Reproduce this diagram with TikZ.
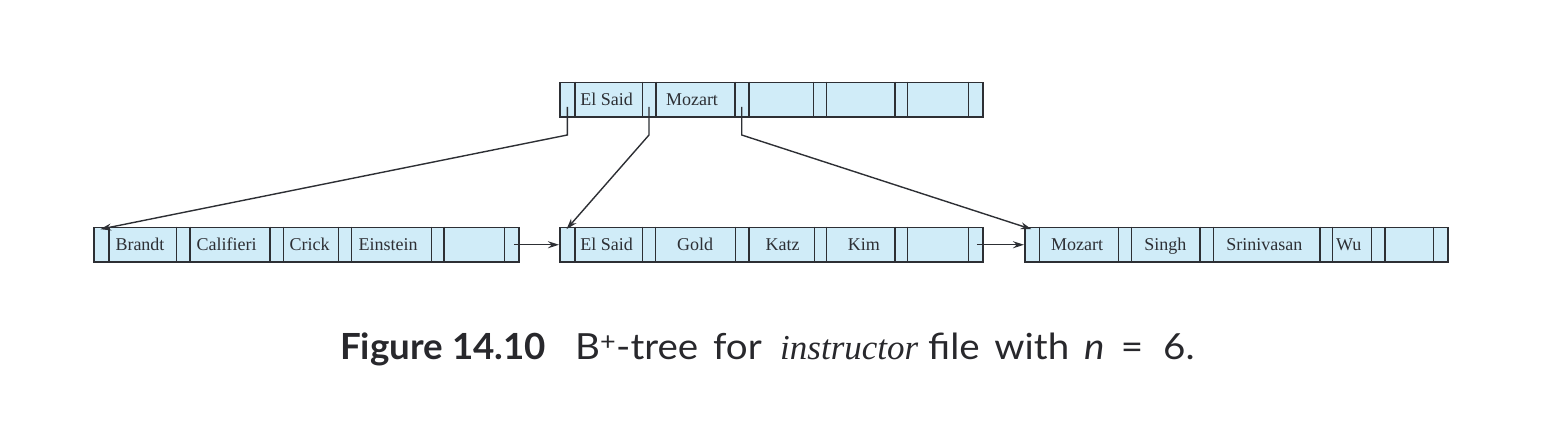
\documentclass[tikz,border=0pt]{standalone}
\usepackage{fontspec}
\setmainfont{Liberation Serif}
\newfontfamily\capsans[FakeStretch=1.07, WordSpace=1.5]{Lato}
\newfontfamily\capsansb[FakeStretch=1.02]{Lato}
\usetikzlibrary{arrows.meta}
\definecolor{cellfill}{RGB}{208,236,248}
\definecolor{ink}{RGB}{45,47,52}
\definecolor{capink}{RGB}{40,40,44}
\begin{document}
\begin{tikzpicture}[x=1pt,y=-1pt,
  nodebox/.style={draw=ink, fill=cellfill, line width=1.8pt, minimum height=34.3pt, inner sep=0pt, anchor=north west},
  divider/.style={draw=ink, line width=1.5pt},
  keytext/.style={font=\fontsize{18}{20}\selectfont, text=ink, inner sep=0pt, anchor=base},
  conn/.style={draw=ink, line width=1.4pt, -{Stealth[length=11pt,width=7pt]}},
  captext/.style={font=\capsans\fontsize{36}{42}\selectfont, text=capink, inner sep=0pt, anchor=base west}]
\useasboundingbox (0,0) rectangle (1566,430);
% ---------- root ----------
\node[nodebox, minimum width=422.4pt] (root) at (559.3,81.7) {};
\foreach \x in {575,642.7,656,735,749,813.3,826.7,895,907.7,968.3}
  \draw[divider] (\x,81.7) -- (\x,116);
\node[keytext] (rk1) at (606.7,106) {El Said};
\node[keytext] (rk2) at (692,106) {Mozart};
% ---------- leaf A ----------
\node[nodebox, minimum width=425pt] (leafA) at (93.3,226.7) {};
\foreach \x in {109,176.7,190,270,283.3,338.3,351.7,431.7,444,504.3}
  \draw[divider] (\x,226.7) -- (\x,261);
\node[keytext] (a1) at (140,251) {Brandt};
\node[keytext] (a2) at (226.7,251) {Califieri};
\node[keytext] (a3) at (309.5,251) {Crick};
\node[keytext] (a4) at (388,251) {Einstein};
% ---------- leaf B ----------
\node[nodebox, minimum width=422.7pt] (leafB) at (559,226.7) {};
\foreach \x in {575,642.3,655.7,735.7,749,814.3,826.7,895,907.7,968.3}
  \draw[divider] (\x,226.7) -- (\x,261);
\node[keytext] (b1) at (606.7,251) {El Said};
\node[keytext] (b2) at (695,251) {Gold};
\node[keytext] (b3) at (782.5,251) {Katz};
\node[keytext] (b4) at (863.8,251) {Kim};
% ---------- leaf C ----------
\node[nodebox, minimum width=422.7pt] (leafC) at (1024,226.7) {};
\foreach \x in {1039.3,1118.3,1131.7,1200,1213.3,1320,1332.7,1371.7,1385,1433.3}
  \draw[divider] (\x,226.7) -- (\x,261);
\node[keytext] (c1) at (1077,251) {Mozart};
\node[keytext] (c2) at (1165.3,251) {Singh};
\node[keytext] (c3) at (1264.3,251) {Srinivasan};
\node[keytext] (c4) at (1348.8,251) {Wu};
% ---------- pointers from root ----------
\coordinate (rp1) at (567.3,107);
\coordinate (rb1) at (567.3,135);
\coordinate (rp2) at (649,107);
\coordinate (rb2) at (649,135);
\coordinate (rp3) at (741.7,107);
\coordinate (rb3) at (741.7,135);
\draw[conn] (rp1) -- (rb1) -- ([xshift=7pt,yshift=-2.5pt]leafA.north west);
\draw[conn] (rp2) -- (rb2) -- ([xshift=7.5pt,yshift=-2.5pt]leafB.north west);
\draw[conn] (rp3) -- (rb3) -- ([xshift=7.5pt,yshift=-2.5pt]leafC.north west);
% ---------- leaf chain ----------
\draw[conn] ([xshift=-6.3pt]leafA.east) -- (leafB.west);
\draw[conn] ([xshift=-6.7pt]leafB.east) -- (leafC.west);
% ---------- caption ----------
\node[captext, font=\capsansb\bfseries\fontsize{36}{42}\selectfont] (capA) at (340,359.3) {Figure 14.10};
\node[captext] (capB) at (575,359.3) {B\textsuperscript{+}-tree for};
\node[captext, font=\itshape\fontsize{35}{40}\selectfont] (capC) at (780,359.3) {instructor};
\node[captext] (capD) at (928,359.3) {file with \textit{n}};
\node[captext, anchor=base] (capG) at (1132,359.3) {=};
\node[captext] (capH) at (1163,359.3) {6.};
\end{tikzpicture}
\end{document}
